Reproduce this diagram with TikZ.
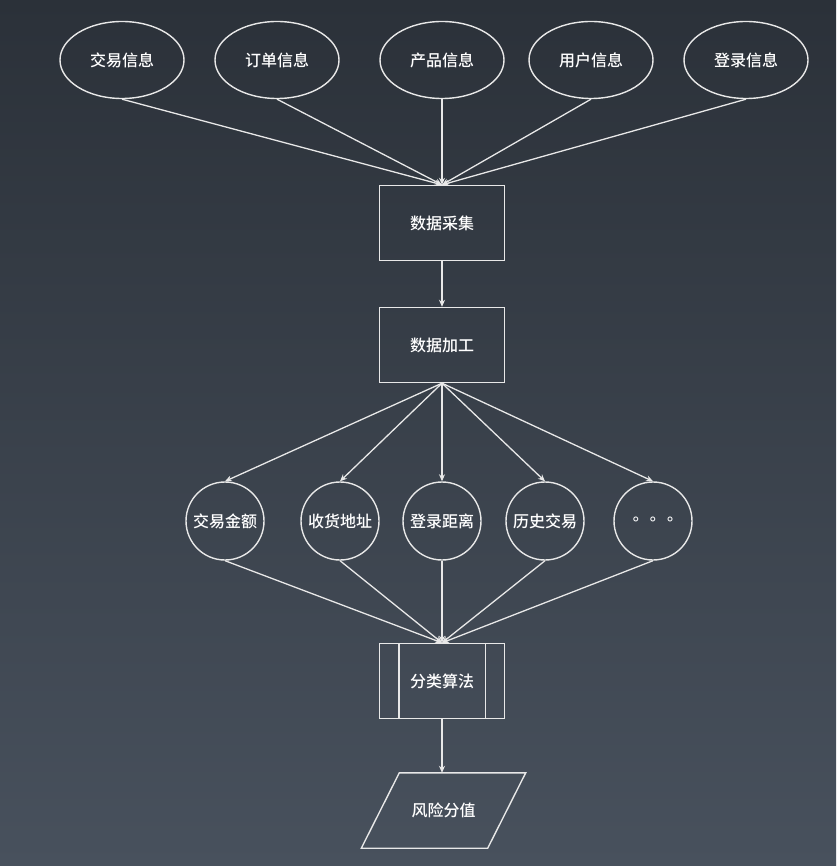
\documentclass[tikz,border=0pt]{standalone}
\usepackage{fontspec}
\newfontfamily\cjk{Noto Sans CJK SC}[UprightFont={* Medium}]
\newfontfamily\dejavu{DejaVu Sans}
\usetikzlibrary{arrows.meta,shapes.geometric,calc}
\definecolor{bgtop}{HTML}{2B3139}
\definecolor{bgbot}{HTML}{48515D}
\definecolor{ln}{HTML}{E8E8E8}
\begin{document}
\begin{tikzpicture}[x=1pt,y=-1pt,
 every node/.style={text=white,font=\cjk\fontsize{16}{19}\selectfont},
 ell/.style={draw=ln,line width=1.4pt,ellipse,minimum width=124pt,minimum height=77pt,inner sep=0pt},
 circ/.style={draw=ln,line width=1.4pt,circle,minimum size=78pt,inner sep=0pt},
 box/.style={draw=ln,line width=1.4pt,rectangle,minimum width=125pt,minimum height=75pt,inner sep=0pt},
 plain/.style={rectangle,minimum width=126pt,minimum height=75pt,inner sep=0pt},
 edge/.style={draw=ln,line width=1.4pt},
 conn/.style={draw=ln,line width=1.3pt,-{Stealth[length=7pt,width=6pt]}}]
\fill[top color=bgtop,bottom color=bgbot] (0,0) rectangle (836,866);
\useasboundingbox (0,0) rectangle (836,866);
% top sources
\node[ell] (i1) at (122,60) {交易信息};
\node[ell] (i2) at (277,60) {订单信息};
\node[ell] (i3) at (442,60) {产品信息};
\node[ell] (i4) at (591,60) {用户信息};
\node[ell] (i5) at (746,60) {登录信息};
% process boxes
\node[box] (collect) at (442,223) {数据采集};
\node[box] (process) at (442,345) {数据加工};
% features
\node[circ] (f1) at (225,521) {交易金额};
\node[circ] (f2) at (340,521) {收货地址};
\node[circ] (f3) at (442,521) {登录距离};
\node[circ] (f4) at (545,521) {历史交易};
\node[circ] (f5) at (653,521) {\dejavu ∘\hspace{7pt}∘\hspace{7pt}∘};
% algorithm (predefined process)
\node[box] (algo) at (442,681) {分类算法};
\draw[edge] ($(algo.north west)+(20,0)$) -- ($(algo.south west)+(20,0)$);
\draw[edge] ($(algo.north east)+(-20,0)$) -- ($(algo.south east)+(-20,0)$);
% output parallelogram
\node[plain] (risk) at (443.5,810.5) {风险分值};
\draw[edge] ($(risk.north west)+(19,0)$) -- ($(risk.north east)+(19,0)$)
  -- ($(risk.south east)+(-19,0)$) -- ($(risk.south west)+(-19,0)$) -- cycle;
% connectors
\foreach \n in {i1,i2,i3,i4,i5} \draw[conn] (\n.south) -- (collect.north);
\draw[conn] (collect.south) -- (process.north);
\foreach \n in {f1,f2,f3,f4,f5} \draw[conn] (process.south) -- (\n.north);
\foreach \n in {f1,f2,f3,f4,f5} \draw[conn] (\n.south) -- (algo.north);
\draw[conn] (algo.south) -- (algo.south |- risk.north);
\end{tikzpicture}
\end{document}
